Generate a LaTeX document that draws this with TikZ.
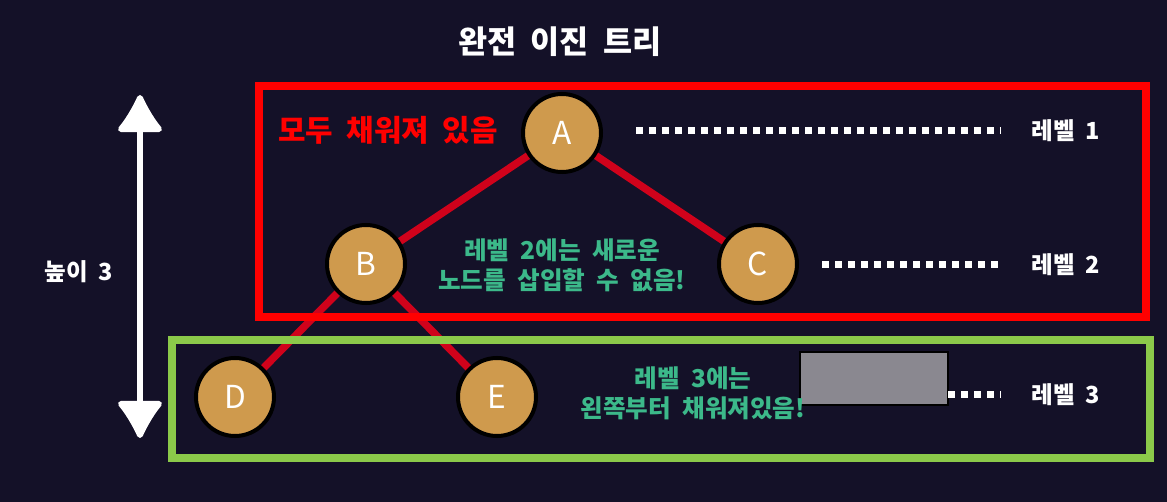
\documentclass[tikz,border=0pt]{standalone}
\usepackage{fontspec}
\setmainfont[WordSpace=2]{Noto Sans CJK KR}
\usetikzlibrary{arrows.meta}
\definecolor{bgnavy}{RGB}{20,17,40}
\definecolor{edgered}{RGB}{208,2,27}
\definecolor{boxgreen}{RGB}{139,201,74}
\definecolor{notegreen}{RGB}{60,185,138}
\definecolor{nodetan}{RGB}{207,154,77}
\definecolor{coverbox}{RGB}{138,136,144}
\pgfdeclarelayer{bg}
\pgfdeclarelayer{edges}
\pgfsetlayers{bg,edges,main}
\tikzset{
  treenode/.style={circle, fill=nodetan, draw=black, line width=0.08cm, minimum size=1.56cm, inner sep=0pt, text=white, font=\fontsize{18}{21}\selectfont},
  treeedge/.style={draw=edgered, line width=0.15cm},
  levelbox/.style={line width=0.16cm},
  leveldots/.style={draw=white, line width=0.14cm, dash pattern=on 0.14cm off 0.12cm},
  levellabel/.style={text=white, font=\fontsize{13.4}{16}\selectfont\bfseries},
  notetext/.style={text=notegreen, align=center, font=\fontsize{14}{17}\selectfont\bfseries},
}

\begin{document}
\begin{tikzpicture}
\useasboundingbox (0,0) rectangle (23.34,10.04);
\begin{pgfonlayer}{bg}
\fill[bgnavy] (0,0) rectangle (23.34,10.04);
\end{pgfonlayer}
\node[text=white, font=\fontsize{18}{22}\selectfont\bfseries] (title) at (11.2,9.2) {완전 이진 트리};
% level boxes
\draw[levelbox, draw=red] (5.18,3.70) rectangle (22.92,8.32);
\draw[levelbox, draw=boxgreen] (3.44,0.88) rectangle (23.0,3.24);
\fill[coverbox, draw=black, line width=0.6pt] (16.0,1.94) rectangle (18.96,3.0);
% tree
\node[treenode] (A) at (11.24,7.38) {A};
\node[treenode] (B) at (7.32,4.76) {B};
\node[treenode] (C) at (15.16,4.76) {C};
\node[treenode] (D) at (4.70,2.10) {D};
\node[treenode] (E) at (9.94,2.10) {E};
\begin{pgfonlayer}{edges}
\draw[treeedge] (A.center) -- (B.center);
\draw[treeedge] (A.center) -- (C.center);
\draw[treeedge] (B.center) -- (D.center);
\draw[treeedge] (B.center) -- (E.center);
\end{pgfonlayer}
\node[text=red, font=\fontsize{17}{20}\selectfont\bfseries] (full) at (7.76,7.44) {모두 채워져 있음};
% levels
\node[levellabel] (lv1) at (21.32,7.42) {레벨 1};
\node[levellabel] (lv2) at (21.32,4.74) {레벨 2};
\node[levellabel] (lv3) at (21.32,2.14) {레벨 3};
\coordinate (d1) at (12.72,7.42);
\coordinate (d2) at (16.44,4.74);
\coordinate (d3) at (18.96,2.14);
\draw[leveldots] (d1) -- ([xshift=-0.5cm]lv1.west);
\draw[leveldots] (d2) -- ([xshift=-0.5cm]lv2.west);
\draw[leveldots] (d3) -- ([xshift=-0.5cm]lv3.west);
\node[notetext] (note2) at (11.24,4.74) {레벨 2에는 새로운\\노드를 삽입할 수 없음!};
\node[notetext] (note3) at (13.86,2.18) {레벨 3에는\\왼쪽부터 채워져있음!};
% height
\coordinate (top) at (2.8,8.14);
\coordinate (bottom) at (2.8,1.28);
\draw[draw=white, line width=0.12cm, {Latex[length=0.84cm, width=1.04cm, round]}-{Latex[length=0.84cm, width=1.04cm, round]}] (top) -- (bottom);
\node[text=white, font=\fontsize{13.4}{16}\selectfont\bfseries] (height) at (1.58,4.6) {높이 3};
\end{tikzpicture}
\end{document}
